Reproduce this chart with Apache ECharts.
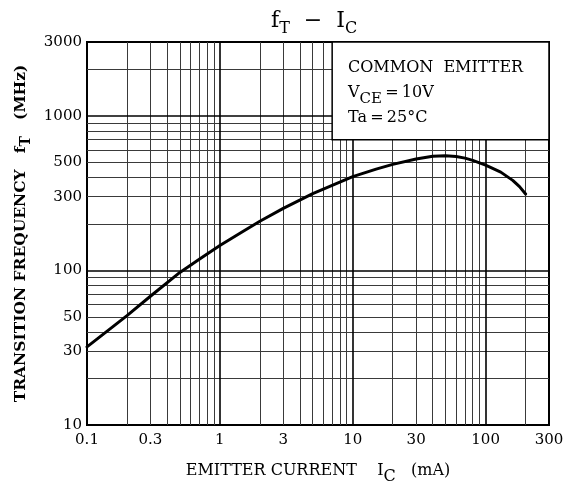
<!DOCTYPE html>
<html>
<head>
<meta charset="utf-8">
<script src="https://cdn.jsdelivr.net/npm/echarts@6/dist/echarts.min.js"></script>
<style>html,body{margin:0;padding:0;background:#fff}#c{width:576px;height:492px}</style>
</head>
<body>
<div id="c"></div>
<script>
// ---- data ----
var currentMA = [0.1, 0.15, 0.2, 0.3, 0.5, 0.7, 1, 1.5, 2, 3, 5, 7, 10, 15, 20, 30, 40, 50, 60, 70, 80, 100, 130, 160, 180, 200];
var freqMHz   = [32, 42, 51, 68, 97, 118, 145, 179, 208, 252, 314, 355, 404, 452, 485, 525, 548, 551, 546, 532, 515, 480, 432, 382, 348, 312];

var xTickLabels = [0.1, 0.3, 1, 3, 10, 30, 100, 300];
var yTickLabels = [10, 30, 50, 100, 300, 500, 1000, 3000];

var xGridMinor = [0.2, 0.3, 0.4, 0.5, 0.6, 0.7, 0.8, 0.9, 2, 3, 4, 5, 6, 7, 8, 9, 20, 30, 40, 50, 60, 70, 80, 90, 200];
var xGridMajor = [1, 10, 100];
var yGridMinor = [20, 30, 40, 50, 60, 70, 80, 90, 200, 300, 400, 500, 600, 700, 800, 900, 2000];
var yGridMajor = [100, 1000];

var insetBox = [[7, 700], [300, 3000]];

var SERIF = '"DejaVu Serif", "Liberation Serif", serif';

function gridLines(vals, axisKey, width, color) {
  return vals.map(function (v) {
    var o = {}; o[axisKey] = v;
    o.lineStyle = { width: width, color: color, type: 'solid' };
    return o;
  });
}

var chart = echarts.init(document.getElementById('c'));
chart.setOption({
  animation: false,
  backgroundColor: '#fff',
  title: {
    text: '{a|f}{s|T}{a|  −  I}{s|C}',
    left: 266, top: 5,
    textStyle: {
      rich: {
        a: { fontFamily: SERIF, fontSize: 22, fontWeight: 'normal', color: '#000', verticalAlign: 'top', lineHeight: 26 },
        s: { fontFamily: SERIF, fontSize: 16, fontWeight: 'normal', color: '#000', verticalAlign: 'top', lineHeight: 16, padding: [11, 0, 0, 0] }
      }
    }
  },
  grid: { left: 87, right: 27, top: 42, bottom: 67, show: true, borderColor: '#000', borderWidth: 2, backgroundColor: 'transparent' },
  xAxis: {
    type: 'log', logBase: 10, min: 0.1, max: 300,
    axisLine: { show: true, lineStyle: { color: '#000', width: 2 } },
    axisTick: { show: false },
    splitLine: { show: false },
    minorTick: { show: false },
    axisLabel: {
      customValues: xTickLabels,
      formatter: function (v) { return String(+v.toPrecision(3)); },
      fontFamily: SERIF, fontSize: 15, color: '#000', margin: 8
    },
    name: '{a|EMITTER CURRENT    I}{s|C}{a|   (mA)}',
    nameLocation: 'middle', nameGap: 38,
    nameTextStyle: {
      rich: {
        a: { fontFamily: SERIF, fontSize: 16, color: '#000', verticalAlign: 'top', lineHeight: 19 },
        s: { fontFamily: SERIF, fontSize: 16, color: '#000', verticalAlign: 'top', lineHeight: 16, padding: [6, 0, 0, 0] }
      }
    }
  },
  yAxis: {
    type: 'log', logBase: 10, min: 10, max: 3000,
    axisLine: { show: true, lineStyle: { color: '#000', width: 2 } },
    axisTick: { show: false },
    splitLine: { show: false },
    minorTick: { show: false },
    axisLabel: {
      customValues: yTickLabels,
      formatter: function (v) { return String(Math.round(v)); },
      fontFamily: SERIF, fontSize: 15, color: '#000', margin: 5
    },
    name: '{a|TRANSITION FREQUENCY   f}{s|T}{a|   (MHz)}',
    nameLocation: 'middle', nameGap: 56, nameRotate: 90,
    nameTextStyle: {
      rich: {
        a: { fontFamily: SERIF, fontSize: 15.5, fontWeight: 'bold', color: '#000', verticalAlign: 'top', lineHeight: 18 },
        s: { fontFamily: SERIF, fontSize: 14, fontWeight: 'bold', color: '#000', verticalAlign: 'top', lineHeight: 14, padding: [6, 0, 0, 0] }
      }
    }
  },
  series: [
    {
      type: 'line', data: [], z: 1, silent: true,
      markLine: {
        silent: true, symbol: 'none', animation: false, z: 1,
        label: { show: false },
        data: []
          .concat(gridLines(xGridMinor, 'xAxis', 1, '#3a3a3a'))
          .concat(gridLines(yGridMinor, 'yAxis', 1, '#3a3a3a'))
          .concat(gridLines(xGridMajor, 'xAxis', 1.6, '#000'))
          .concat(gridLines(yGridMajor, 'yAxis', 1.6, '#000'))
      }
    },
    {
      type: 'line', data: [], z: 2, silent: true,
      markArea: {
        silent: true, z: 8,
        itemStyle: { color: '#fff', borderColor: '#000', borderWidth: 1.5, opacity: 1 },
        label: { show: false },
        data: [[{ coord: insetBox[0] }, { coord: insetBox[1] }]]
      }
    },
    {
      type: 'line', z: 3, showSymbol: false, smooth: false,
      lineStyle: { color: '#000', width: 3, join: 'round', cap: 'round' },
      data: currentMA.map(function (x, i) { return [x, freqMHz[i]]; })
    }
  ],
  graphic: [
    {
      type: 'text', left: 348, top: 60, z: 100,
      style: {
        text: '{a|COMMON  EMITTER}\n{a|V}{s|CE}{a|\u2009=\u200910V}\n{a|Ta\u2009=\u200925°C}',
        rich: {
          a: { fontFamily: SERIF, fontSize: 16, fill: '#000', verticalAlign: 'top', lineHeight: 25 },
          s: { fontFamily: SERIF, fontSize: 15, fill: '#000', verticalAlign: 'top', lineHeight: 15, padding: [7, 0, 0, 0] }
        }
      }
    }
  ]
});
</script>
</body>
</html>
